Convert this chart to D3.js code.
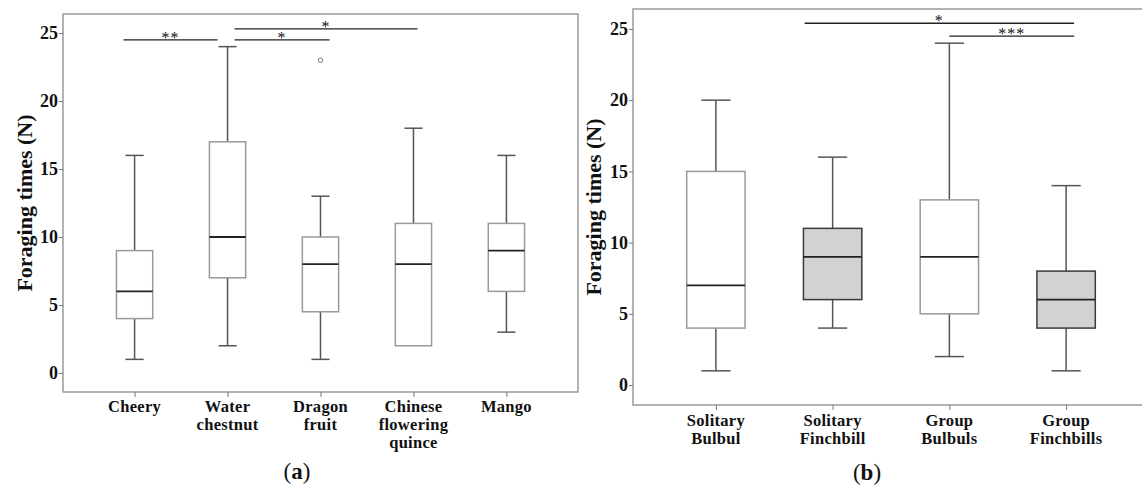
<!DOCTYPE html>
<html>
<head>
<meta charset="utf-8">
<script src="https://cdn.jsdelivr.net/npm/d3@7"></script>
<style>
  body { margin: 0; background: #fff; }
  text { font-family: "Liberation Serif", "DejaVu Serif", serif; font-weight: bold; fill: #111; }
</style>
</head>
<body>
<div id="chart"></div>
<script>
var svgWidth = 1142;
var svgHeight = 491;

// shared y axis
var yTicks = [0, 5, 10, 15, 20, 25];
var yDomain = [-1.4, 26.4];

// panel (a): fruit species
var fruitCats = ["Cheery", "Water chestnut", "Dragon fruit", "Chinese flowering quince", "Mango"];
var fruitLabels = [["Cheery"], ["Water", "chestnut"], ["Dragon", "fruit"], ["Chinese", "flowering", "quince"], ["Mango"]];
var fruitMin = [1, 2, 1, 2, 3];
var fruitQ1 = [4, 7, 4.5, 2, 6];
var fruitMed = [6, 10, 8, 8, 9];
var fruitQ3 = [9, 17, 10, 11, 11];
var fruitMax = [16, 24, 13, 18, 16];
var fruitOutliers = [[], [], [23], [], []];
var fruitSig = [
  { from: 0, to: 1, level: 24.5, label: "**" },
  { from: 1, to: 2, level: 24.5, label: "*" },
  { from: 1, to: 3, level: 25.3, label: "*" }
];

// panel (b): bird groups
var birdCats = ["Solitary Bulbul", "Solitary Finchbill", "Group Bulbuls", "Group Finchbills"];
var birdLabels = [["Solitary", "Bulbul"], ["Solitary", "Finchbill"], ["Group", "Bulbuls"], ["Group", "Finchbills"]];
var birdSpecies = ["Bulbul", "Finchbill", "Bulbul", "Finchbill"];
var birdMin = [1, 4, 2, 1];
var birdQ1 = [4, 6, 5, 4];
var birdMed = [7, 9, 9, 6];
var birdQ3 = [15, 11, 13, 8];
var birdMax = [20, 16, 24, 14];
var birdSig = [
  { from: 1, to: 3, level: 25.4, label: "*" },
  { from: 2, to: 3, level: 24.5, label: "***" }
];

var svg = d3.select("#chart")
  .append("svg")
  .attr("width", svgWidth)
  .attr("height", svgHeight);

// draws one boxplot panel
function drawPanel(p) {
  var g = svg.append("g");

  var x = d3.scalePoint()
    .domain(p.cats)
    .range([p.left, p.right])
    .padding(p.pad);

  var y = d3.scaleLinear()
    .domain(yDomain)
    .range([p.bottom, p.top]);

  var boxW = x.step() * p.boxFrac;
  var capW = boxW / 2;

  var rows = p.cats.map(function(c, i) {
    return {
      cat: c, lines: p.labels[i], min: p.min[i], q1: p.q1[i], med: p.med[i],
      q3: p.q3[i], max: p.max[i], outliers: p.outliers ? p.outliers[i] : [],
      shaded: p.shaded ? p.shaded[i] : false
    };
  });

  // frame
  g.append("rect")
    .attr("x", p.left)
    .attr("y", p.top)
    .attr("width", p.right - p.left)
    .attr("height", p.bottom - p.top)
    .attr("fill", "none")
    .attr("stroke", "#9a9a9a")
    .attr("stroke-width", 1.5);

  // y axis
  var leftAxis = d3.axisLeft(y).tickValues(yTicks).tickSize(4).tickPadding(1);
  var ya = g.append("g")
    .attr("transform", `translate(${p.left},0)`)
    .call(leftAxis);
  ya.select(".domain").remove();
  ya.selectAll(".tick line").attr("stroke", "#777");
  ya.selectAll(".tick text")
    .style("font-size", "18px")
    .style("font-family", "Liberation Serif")
    .style("font-weight", "bold")
    .attr("fill", "#111");

  // x axis ticks
  var bottomAxis = d3.axisBottom(x).tickSize(5).tickFormat("");
  var xa = g.append("g")
    .attr("transform", `translate(0,${p.bottom})`)
    .call(bottomAxis);
  xa.select(".domain").remove();
  xa.selectAll(".tick line").attr("stroke", "#777");

  // x labels, one text per line
  rows.forEach(function(d) {
    d.lines.forEach(function(line, k) {
      g.append("text")
        .attr("class", "xlab")
        .attr("x", x(d.cat))
        .attr("y", p.bottom + p.labelOffset + k * p.lineH)
        .attr("text-anchor", "middle")
        .style("font-size", "16.5px")
        .style("letter-spacing", "0.3px")
        .text(line);
    });
  });

  // y label
  g.append("text")
    .attr("transform", `translate(${p.ylabX},${(p.top + p.bottom) / 2}) rotate(-90)`)
    .attr("text-anchor", "middle")
    .attr("dy", "0.35em")
    .style("font-size", "22px")
    .text("Foraging times (N)");

  // whiskers
  g.selectAll(".whisker")
    .data(rows)
    .enter()
    .append("line")
    .attr("x1", d => x(d.cat))
    .attr("x2", d => x(d.cat))
    .attr("y1", d => y(d.min))
    .attr("y2", d => y(d.max))
    .attr("stroke", "#555")
    .attr("stroke-width", 1.5);

  ["min", "max"].forEach(function(k) {
    g.selectAll(".cap-" + k)
      .data(rows.filter(d => k === "max" ? d.max > d.q3 : d.min < d.q1))
      .enter()
      .append("line")
      .attr("x1", d => x(d.cat) - capW / 2)
      .attr("x2", d => x(d.cat) + capW / 2)
      .attr("y1", d => y(d[k]))
      .attr("y2", d => y(d[k]))
      .attr("stroke", "#555")
      .attr("stroke-width", 1.5);
  });

  // boxes
  g.selectAll(".box")
    .data(rows)
    .enter()
    .append("rect")
    .attr("x", d => x(d.cat) - boxW / 2)
    .attr("y", d => y(d.q3))
    .attr("width", boxW)
    .attr("height", d => y(d.q1) - y(d.q3))
    .attr("fill", d => d.shaded ? "#d2d2d2" : "#fff")
    .attr("stroke", d => d.shaded ? "#3a3a3a" : "#9a9a9a")
    .attr("stroke-width", 1.5);

  // medians
  g.selectAll(".median")
    .data(rows)
    .enter()
    .append("line")
    .attr("x1", d => x(d.cat) - boxW / 2)
    .attr("x2", d => x(d.cat) + boxW / 2)
    .attr("y1", d => y(d.med))
    .attr("y2", d => y(d.med))
    .attr("stroke", "#222")
    .attr("stroke-width", 1.8);

  // outliers
  rows.forEach(function(d) {
    d.outliers.forEach(function(v) {
      g.append("circle")
        .attr("cx", x(d.cat))
        .attr("cy", y(v))
        .attr("r", 2.2)
        .attr("fill", "none")
        .attr("stroke", "#777")
        .attr("stroke-width", 1);
    });
  });

  // significance brackets
  p.sig.forEach(function(s, i) {
    var x1 = x(p.cats[s.from]) + p.nudge[i][0];
    var x2 = x(p.cats[s.to]) + p.nudge[i][1];
    g.append("line")
      .attr("x1", x1)
      .attr("x2", x2)
      .attr("y1", y(s.level))
      .attr("y2", y(s.level))
      .attr("stroke", "#222")
      .attr("stroke-width", 1.3);
    g.append("text")
      .attr("x", (x1 + x2) / 2)
      .attr("y", y(s.level) + 3)
      .attr("text-anchor", "middle")
      .style("font-size", "16px")
      .style("font-weight", "normal")
      .style("letter-spacing", "1px")
      .text(s.label);
  });
}

drawPanel({
  cats: fruitCats, labels: fruitLabels,
  min: fruitMin, q1: fruitQ1, med: fruitMed, q3: fruitQ3, max: fruitMax,
  outliers: fruitOutliers, sig: fruitSig,
  nudge: [[-11, -10], [7, 9], [7, 4]],
  left: 63, right: 578, top: 14, bottom: 392,
  pad: 0.77, boxFrac: 0.39, labelOffset: 20, lineH: 18, ylabX: 24
});

drawPanel({
  cats: birdCats, labels: birdLabels,
  min: birdMin, q1: birdQ1, med: birdMed, q3: birdQ3, max: birdMax,
  shaded: birdSpecies.map(s => s === "Finchbill"), sig: birdSig,
  nudge: [[-28, 8], [0, 8]],
  left: 633, right: 1149, top: 9, bottom: 405,
  pad: 0.71, boxFrac: 0.5, labelOffset: 21, lineH: 18, ylabX: 593
});

// panel captions
[["a", 297, 479], ["b", 867, 480]].forEach(function(c) {
  var t = svg.append("text")
    .attr("x", c[1])
    .attr("y", c[2])
    .attr("text-anchor", "middle")
    .style("font-weight", "normal")
    .style("font-size", "23px");
  t.append("tspan").text("(");
  t.append("tspan").style("font-weight", "bold").text(c[0]);
  t.append("tspan").text(")");
});
</script>
</body>
</html>
